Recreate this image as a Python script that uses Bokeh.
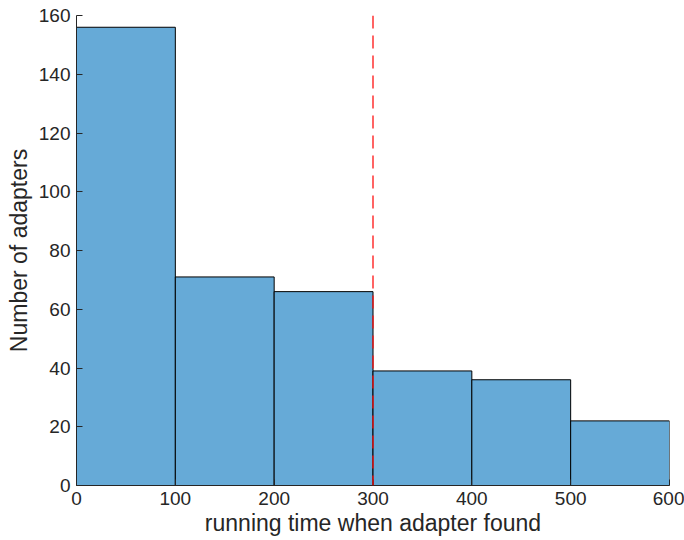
from bokeh.plotting import figure
from bokeh.embed import file_html
from bokeh.resources import INLINE
from bokeh.models import Range1d, FixedTicker, Span

bin_left = [0, 100, 200, 300, 400, 500]
bin_right = [100, 200, 300, 400, 500, 600]
counts = [156, 71, 66, 39, 36, 22]
threshold = 300
x_ticks = [0, 100, 200, 300, 400, 500, 600]
y_ticks = [0, 20, 40, 60, 80, 100, 120, 140, 160]

p = figure(width=684, height=540, output_backend="svg", toolbar_location=None,
           x_range=Range1d(0, 600), y_range=Range1d(0, 160),
           min_border_left=76, min_border_right=15, min_border_top=15, min_border_bottom=55)
p.outline_line_color = None
p.grid.visible = False
p.background_fill_color = "white"

p.quad(left=bin_left, right=bin_right, bottom=0, top=counts,
       fill_color="#66aad7", line_color="black", line_width=1)

p.add_layout(Span(location=threshold, dimension="height", line_color="#ff1010",
                  line_dash="13 7", line_width=1.3))

for ax in (p.xaxis[0], p.yaxis[0]):
    ax.axis_line_color = "#262626"
    ax.major_tick_line_color = "#262626"
    ax.major_tick_in = 6
    ax.major_tick_out = 0
    ax.minor_tick_line_color = None
    ax.major_label_text_font = "Liberation Sans"
    ax.major_label_text_font_size = "19px"
    ax.major_label_text_color = "#262626"
    ax.axis_label_text_font = "Liberation Sans"
    ax.axis_label_text_font_size = "23px"
    ax.axis_label_text_font_style = "normal"
    ax.axis_label_text_color = "#262626"

p.xaxis[0].ticker = FixedTicker(ticks=x_ticks)
p.yaxis[0].ticker = FixedTicker(ticks=y_ticks)
p.xaxis[0].axis_label = "running time when adapter found"
p.yaxis[0].axis_label = "Number of adapters"
p.xaxis[0].major_label_standoff = 6
p.yaxis[0].major_label_standoff = 6
p.xaxis[0].axis_label_standoff = 2
p.yaxis[0].axis_label_standoff = 4

open("out.html", "w").write(file_html(p, INLINE))
